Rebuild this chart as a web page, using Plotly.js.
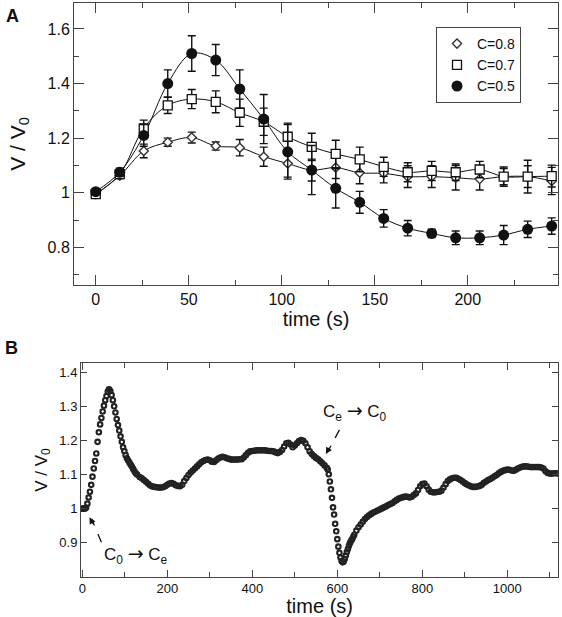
<!DOCTYPE html>
<html>
<head>
<meta charset="utf-8">
<script src="https://cdn.plot.ly/plotly-3.0.1.min.js"></script>
<style>
html,body{margin:0;padding:0;background:#fff;}
#chart{width:562px;height:617px;}
</style>
</head>
<body>
<div id="chart"></div>
<script>
// ---------- Panel A data ----------
var timeA = [0, 12.9, 25.8, 38.7, 51.6, 64.5, 77.4, 90.3, 103.2, 116.1, 129, 141.9, 154.8, 167.7, 180.6, 193.5, 206.4, 219.3, 232.2, 245.1];
var c08 = [0.995, 1.062, 1.153, 1.185, 1.202, 1.171, 1.165, 1.132, 1.107, 1.083, 1.092, 1.073, 1.071, 1.059, 1.059, 1.055, 1.050, 1.059, 1.059, 1.043];
var c08err = [0.008, 0.010, 0.025, 0.015, 0.020, 0.015, 0.030, 0.035, 0.050, 0.040, 0.040, 0.040, 0.035, 0.040, 0.040, 0.045, 0.040, 0.030, 0.040, 0.050];
var c07 = [0.995, 1.068, 1.236, 1.320, 1.343, 1.333, 1.293, 1.260, 1.205, 1.168, 1.142, 1.122, 1.095, 1.075, 1.080, 1.075, 1.085, 1.059, 1.059, 1.061];
var c07err = [0.008, 0.012, 0.030, 0.030, 0.035, 0.040, 0.050, 0.050, 0.050, 0.050, 0.050, 0.045, 0.035, 0.035, 0.035, 0.030, 0.030, 0.035, 0.060, 0.040];
var c05 = [1.004, 1.075, 1.210, 1.400, 1.510, 1.486, 1.380, 1.270, 1.150, 1.083, 1.016, 0.965, 0.906, 0.870, 0.851, 0.835, 0.835, 0.845, 0.866, 0.878];
var c05err = [0.010, 0.015, 0.040, 0.050, 0.065, 0.057, 0.070, 0.090, 0.100, 0.090, 0.072, 0.040, 0.032, 0.028, 0.015, 0.025, 0.025, 0.035, 0.030, 0.030];
var seriesNames = ["C=0.8", "C=0.7", "C=0.5"];

// ---------- Panel B data ----------
var timeB = [
0,3,6,9,12,15,18,21,24,27,30,33,36,39,42,45,48,51,54,57,60,63,66,69,72,75,78,81,84,87,90,93,96,99,102,105,108,111,114,117,120,123,126,129,
135,140,145,150,155,160,165,170,175,180,185,190,195,200,205,210,215,220,225,230,235,240,245,250,255,260,265,270,275,280,285,290,295,300,305,310,315,320,325,330,335,340,345,350,355,360,365,370,375,380,385,390,395,400,405,410,415,420,425,430,435,440,445,450,455,460,465,470,475,480,485,490,495,500,505,510,515,520,525,530,535,540,545,550,555,560,565,570,575,
577.5,580,582.5,585,587.5,590,592.5,595,597.5,600,602.5,605,607.5,610,612.5,615,617.5,620,622.5,625,627.5,630,632.5,635,637.5,640,
645,650,655,660,665,670,675,680,685,690,695,700,705,710,715,720,725,730,735,740,745,750,755,760,765,770,775,780,785,790,795,800,805,810,815,820,825,830,835,840,845,850,855,860,865,870,875,880,885,890,895,900,905,910,915,920,925,930,935,940,945,950,955,960,965,970,975,980,985,990,995,1000,1005,1010,1015,1020,1025,1030,1035,1040,1045,1050,1055,1060,1065,1070,1075,1080,1085,1090,1095,1100,1105,1110,1115,1120];
var ratioB = [
1.000,1.001,1.000,1.003,1.015,1.033,1.050,1.070,1.094,1.118,1.140,1.162,1.196,1.224,1.247,1.266,1.285,1.302,1.318,1.330,1.343,1.350,1.345,1.333,1.318,1.300,1.282,1.263,1.245,1.229,1.212,1.196,1.180,1.169,1.157,1.148,1.141,1.135,1.129,1.123,1.116,1.109,1.104,1.100,
1.093,1.089,1.084,1.079,1.073,1.068,1.065,1.064,1.063,1.062,1.062,1.063,1.066,1.070,1.074,1.075,1.073,1.069,1.067,1.066,1.070,1.081,1.090,1.099,1.106,1.112,1.118,1.124,1.130,1.136,1.140,1.143,1.144,1.142,1.138,1.137,1.142,1.147,1.150,1.152,1.151,1.148,1.146,1.144,1.144,1.144,1.144,1.145,1.145,1.150,1.157,1.164,1.168,1.169,1.170,1.171,1.171,1.171,1.171,1.171,1.170,1.169,1.169,1.168,1.165,1.163,1.166,1.172,1.182,1.192,1.193,1.188,1.180,1.185,1.192,1.198,1.201,1.199,1.192,1.180,1.168,1.160,1.154,1.149,1.145,1.139,1.133,1.127,1.120,
1.115,1.101,1.080,1.057,1.032,1.004,0.983,0.956,0.934,0.911,0.889,0.871,0.857,0.847,0.843,0.845,0.853,0.863,0.873,0.882,0.892,0.900,0.906,0.911,0.918,0.924,
0.936,0.946,0.954,0.962,0.970,0.976,0.981,0.985,0.989,0.992,0.995,0.998,1.001,1.004,1.007,1.011,1.014,1.017,1.022,1.026,1.030,1.032,1.034,1.036,1.035,1.033,1.035,1.040,1.045,1.055,1.066,1.072,1.074,1.066,1.056,1.050,1.048,1.048,1.049,1.050,1.053,1.062,1.072,1.081,1.086,1.089,1.091,1.091,1.088,1.084,1.080,1.075,1.071,1.068,1.065,1.064,1.064,1.065,1.067,1.070,1.076,1.080,1.084,1.087,1.091,1.095,1.099,1.104,1.108,1.111,1.113,1.115,1.114,1.112,1.111,1.114,1.118,1.121,1.123,1.124,1.124,1.123,1.122,1.122,1.122,1.122,1.122,1.121,1.118,1.110,1.105,1.103,1.103,1.104,1.104,1.103];

var FONT = "Liberation Sans, Arial, Helvetica, sans-serif";
var INK = "#111";
var FRAME = "#444";
var ARROW = "<span style=\"font-family:DejaVu Sans;font-size:19px\">→</span>";

function errObj(arr){
  return {type:"data", array:arr, visible:true, color:INK, thickness:1.4, width:4};
}
function lineTrace(y){
  return {x:timeA, y:y, type:"scatter", mode:"lines", showlegend:false, hoverinfo:"skip",
          line:{shape:"spline", color:INK, width:1}, xaxis:"x", yaxis:"y"};
}

var traces = [
  lineTrace(c08), lineTrace(c07), lineTrace(c05),
  {x:timeA, y:c08, name:seriesNames[0], type:"scatter", mode:"markers",
   marker:{symbol:"diamond", size:7, color:"#fff", line:{color:"#333", width:1.4}},
   error_y:errObj(c08err), xaxis:"x", yaxis:"y"},
  {x:timeA, y:c07, name:seriesNames[1], type:"scatter", mode:"markers",
   marker:{symbol:"square", size:9, color:"#fff", line:{color:INK, width:1.3}},
   error_y:errObj(c07err), xaxis:"x", yaxis:"y"},
  {x:timeA, y:c05, name:seriesNames[2], type:"scatter", mode:"markers",
   marker:{symbol:"circle", size:11, color:INK, line:{color:INK, width:0}},
   error_y:errObj(c05err), xaxis:"x", yaxis:"y"},
  {x:timeB, y:ratioB, name:"B", type:"scatter", mode:"markers", showlegend:false,
   marker:{symbol:"circle-open", size:4.5, color:"#222", line:{color:"#222", width:2.1}},
   xaxis:"x2", yaxis:"y2"}
];

var W = 562, H = 617;
function px(x){return x/W;}
function py(y){return (H-y)/H;}

var axCommon = {
  showline:true, linecolor:FRAME, linewidth:1, mirror:"allticks",
  ticks:"inside", tickcolor:FRAME, tickwidth:1,
  showgrid:false, zeroline:false, color:INK,
  tickfont:{family:FONT, size:16, color:INK}
};

var layout = {
  width:W, height:H,
  margin:{l:0, r:0, t:0, b:0},
  paper_bgcolor:"#fff", plot_bgcolor:"#fff",
  font:{family:FONT, color:INK},
  showlegend:true,
  legend:{x:px(436), y:py(27), xanchor:"left", yanchor:"top",
          bordercolor:FRAME, borderwidth:1, bgcolor:"#fff",
          font:{family:FONT, size:14, color:INK}, tracegroupgap:0},
  xaxis:Object.assign({}, axCommon, {
    domain:[px(74), px(558)], range:[-11.7, 248.5],
    dtick:50, tick0:0, ticklen:10,
    minor:{dtick:25, ticklen:5, ticks:"inside", tickcolor:FRAME},
    anchor:"y",
    title:{text:"time (s)", font:{family:FONT, size:20, color:INK}, standoff:1}
  }),
  yaxis:Object.assign({}, axCommon, {
    domain:[py(285), py(3)], range:[0.662, 1.695],
    dtick:0.2, tick0:0, ticklen:10,
    minor:{dtick:0.1, ticklen:5, ticks:"inside", tickcolor:FRAME},
    anchor:"x",
    title:{text:"V / V<sub>0</sub>", font:{family:FONT, size:21, color:INK}, standoff:16}
  }),
  xaxis2:Object.assign({}, axCommon, {
    domain:[px(81), px(558.3)], range:[-3, 1120],
    dtick:200, tick0:0, ticklen:7,
    tickfont:{family:FONT, size:13, color:INK},
    minor:{dtick:100, ticklen:5, ticks:"inside", tickcolor:FRAME},
    anchor:"y2",
    title:{text:"time (s)", font:{family:FONT, size:20, color:INK}, standoff:1}
  }),
  yaxis2:Object.assign({}, axCommon, {
    domain:[py(576.7), py(363.3)], range:[0.801, 1.426],
    dtick:0.1, tick0:0, ticklen:6,
    tickfont:{family:FONT, size:13, color:INK},
    anchor:"x2",
    title:{text:"V / V<sub>0</sub>", font:{family:FONT, size:17, color:INK}, standoff:7}
  }),
  shapes:[
    {type:"line", xref:"x2", yref:"y2", x0:45, y0:0.902, x1:22, y1:0.97,
     line:{color:INK, width:1.3, dash:"dash"}},
    {type:"line", xref:"x2", yref:"y2", x0:605, y0:1.231, x1:578, y1:1.168,
     line:{color:INK, width:1.3, dash:"dash"}}
  ],
  annotations:[
    {text:"<b>A</b>", xref:"paper", yref:"paper", x:px(4), y:py(4), xanchor:"left", yanchor:"top",
     showarrow:false, font:{family:FONT, size:18, color:INK}},
    {text:"<b>B</b>", xref:"paper", yref:"paper", x:px(3), y:py(336), xanchor:"left", yanchor:"top",
     showarrow:false, font:{family:FONT, size:18, color:INK}},
    {text:"C<sub>0</sub> " + ARROW + " C<sub>e</sub>", xref:"x2", yref:"y2", x:127, y:0.866,
     showarrow:false, font:{family:FONT, size:17, color:INK}},
    {text:"C<sub>e</sub> " + ARROW + " C<sub>0</sub>", xref:"x2", yref:"y2", x:641, y:1.284,
     showarrow:false, font:{family:FONT, size:17, color:INK}},
    {text:"", xref:"x2", yref:"y2", x:17, y:0.975, ax:4.3, ay:7.9, axref:"pixel", ayref:"pixel",
     showarrow:true, arrowhead:2, arrowsize:1, arrowwidth:1.3, arrowcolor:INK},
    {text:"", xref:"x2", yref:"y2", x:573, y:1.160, ax:4.5, ay:-7.8, axref:"pixel", ayref:"pixel",
     showarrow:true, arrowhead:2, arrowsize:1, arrowwidth:1.3, arrowcolor:INK}
  ]
};

Plotly.newPlot("chart", traces, layout, {staticPlot:true, displayModeBar:false});
</script>
</body>
</html>
